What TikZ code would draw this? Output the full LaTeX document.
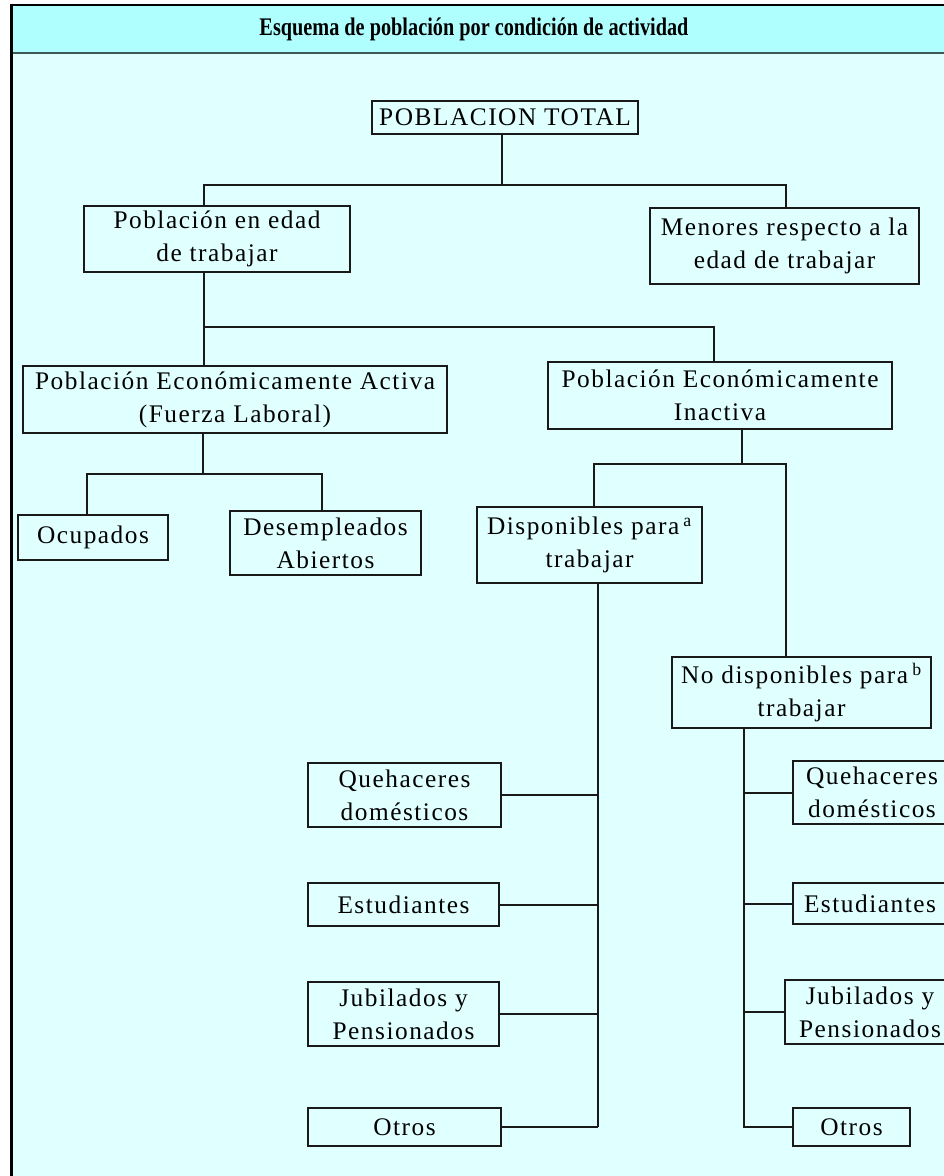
\documentclass[tikz,border=0pt]{standalone}
\usepackage{fontspec}
\setmainfont{Liberation Serif}
\newfontfamily\cajafont{Liberation Serif}[LetterSpace=6]
\newfontfamily\titlefont{Liberation Serif}[FakeStretch=0.8]
\definecolor{fondo}{HTML}{E0FFFF}
\definecolor{cabecera}{HTML}{AFFFFF}
\definecolor{lineacab}{HTML}{3C5A5A}

\begin{document}
\begin{tikzpicture}[x=0.75pt, y=-0.75pt,
    caja/.style={draw=black!90, line width=1.5pt, inner sep=0pt, align=center,
      font=\cajafont\fontsize{19}{24.75}\selectfont},
    sz/.style 2 args={minimum width=#1*0.75pt, minimum height=#2*0.75pt},
    enlace/.style={draw=black!90, line width=1.5pt}]
  \useasboundingbox (0,0) rectangle (944,1176);
  \clip (0,0) rectangle (944,1176);
  \fill[white] (0,0) rectangle (944,1176);

  % Marco y cabecera
  \fill[fondo] (11,5) rectangle (1000,1200);
  \fill[cabecera] (11,5) rectangle (1000,53);
  \draw[lineacab, line width=2pt] (11,53) -- (1000,53);
  \draw[black, line width=1.5pt] (11,5) -- (1000,5);
  \draw[black, line width=2.25pt] (11,4) -- (11,1200);
  \node[font=\titlefont\bfseries\fontsize{19}{22}\selectfont] (titulo) at (474,29)
    {Esquema de población por condición de actividad};

  % Primer nivel
  \node[caja, sz={266}{33}] (pt) at (505,117.5) {POBLACION TOTAL};
  \node[caja, sz={266}{66}] (pet) at (217,239) {Población en edad\\de trabajar};
  \node[caja, sz={269}{76}] (men) at (784.5,246) {Menores respecto a la\\edad de trabajar};

  \coordinate (j0) at (502,185);
  \coordinate (j1) at (204,185);
  \coordinate (j2) at (786,185);
  \draw[enlace] (pt.south -| j0) -- (j0);
  \draw[enlace] (pet.north -| j1) -- (j1) -- (j2) -- (men.north -| j2);

  % Activa / Inactiva
  \node[caja, sz={424}{67}] (pea) at (235,399.5) {Población Económicamente Activa\\(Fuerza Laboral)};
  \node[caja, sz={344}{67}] (pei) at (720,395.5) {Población Económicamente\\Inactiva};

  \coordinate (j3) at (204,327);
  \coordinate (j4) at (714,327);
  \draw[enlace] (pet.south -| j3) -- (pea.north -| j3);
  \draw[enlace] (j3) -- (j4) -- (pei.north -| j4);

  % Ocupados / Desempleados
  \node[caja, sz={150}{45}] (ocu) at (93,537.5) {Ocupados};
  \node[caja, sz={191}{64}] (des) at (325.5,543) {Desempleados\\Abiertos};

  \coordinate (j5) at (87,474);
  \coordinate (j6) at (322,474);
  \coordinate (j7) at (203,474);
  \draw[enlace] (pea.south -| j7) -- (j7);
  \draw[enlace] (ocu.north -| j5) -- (j5) -- (j6) -- (des.north -| j6);

  % Disponibles / No disponibles
  \node[caja, sz={225}{76}] (dis) at (589.5,545) {Disponibles para\,\textsuperscript{a}\\trabajar};
  \node[caja, sz={259}{71}] (nodis) at (801.5,692.5) {No disponibles para\,\textsuperscript{b}\\trabajar};

  \coordinate (j8) at (742,464);
  \coordinate (j9) at (594,464);
  \coordinate (j10) at (786,464);
  \draw[enlace] (pei.south -| j8) -- (j8);
  \draw[enlace] (dis.north -| j9) -- (j9) -- (j10) -- (nodis.north -| j10);

  % Columna de disponibles
  \node[caja, sz={193}{64}] (qd1) at (404.5,795) {Quehaceres\\domésticos};
  \node[caja, sz={191}{43}] (est1) at (403.5,904.5) {Estudiantes};
  \node[caja, sz={191}{64}] (jub1) at (403.5,1014) {Jubilados y\\Pensionados};
  \node[caja, sz={193}{38}] (otr1) at (404.5,1127) {Otros};

  \coordinate (c1) at (598,1127);
  \draw[enlace] (dis.south -| c1) -- (c1);
  \foreach \n in {qd1,est1,jub1,otr1}
    \draw[enlace] (\n.east) -- (\n.east -| c1);

  % Columna de no disponibles
  \node[caja, sz={158}{63}] (qd2) at (872,792.5) {Quehaceres\\domésticos};
  \node[caja, sz={154}{41}] (est2) at (870,903.5) {Estudiantes};
  \node[caja, sz={170}{64}] (jub2) at (870,1012) {Jubilados y\\Pensionados};
  \node[caja, sz={117}{38}] (otr2) at (851.5,1127) {Otros};

  \coordinate (c2) at (744,1127);
  \draw[enlace] (nodis.south -| c2) -- (c2) -- (otr2.west);
  \foreach \n in {qd2,est2,jub2}
    \draw[enlace] (\n.west) -- (\n.west -| c2);
\end{tikzpicture}
\end{document}
